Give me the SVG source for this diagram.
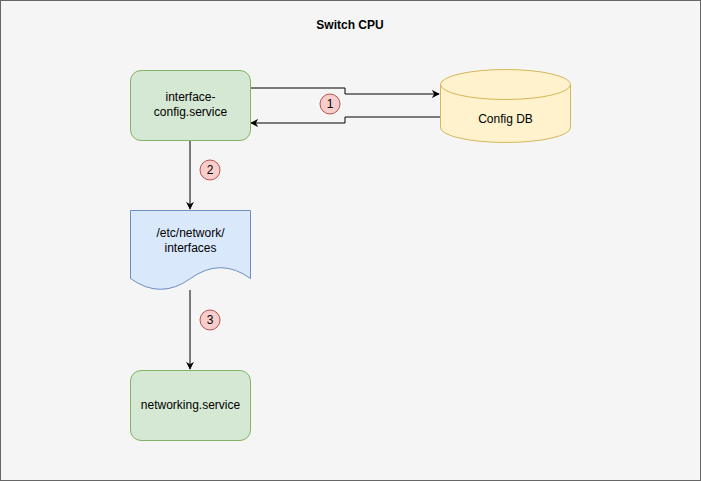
<svg xmlns="http://www.w3.org/2000/svg" width="701" height="481" viewBox="0 0 701 481">
<defs>
<style>
text{font-family:"Liberation Sans",Arial,sans-serif;font-size:12px;fill:#000;text-anchor:middle}
.green{fill:#d5e8d4;stroke:#82b366;stroke-width:1}
.edge{fill:none;stroke:#000;stroke-width:1}
.badge circle{fill:#f8cecc;stroke:#b85450;stroke-width:1}
</style>
<marker id="arr" viewBox="0 0 10 10" refX="9" refY="5" markerWidth="8" markerHeight="8" markerUnits="userSpaceOnUse" orient="auto">
<path d="M0,0 L10,5 L0,10 L3,5 Z" fill="#000"/>
</marker>
</defs>
<g id="frame">
<rect x="0.5" y="0.5" width="700" height="480" fill="#f5f5f5" stroke="#666666"/>
<text x="350" y="29" style="font-weight:bold">Switch CPU</text>
</g>
<g id="connectors">
<path class="edge" d="M250,88 H345 V94 H439" marker-end="url(#arr)"/>
<path class="edge" d="M440,117 H345 V123 H251" marker-end="url(#arr)"/>
<path class="edge" d="M190,140 V209" marker-end="url(#arr)"/>
<path class="edge" d="M190,290 V369" marker-end="url(#arr)"/>
</g>
<g id="interface-config">
<rect class="green" x="130.5" y="70.5" width="120" height="70" rx="10.5"/>
<text x="190.5" y="101">interface-</text>
<text x="190.5" y="116">config.service</text>
</g>
<g id="config-db">
<path d="M440.5,84.5 A65,15 0 0 1 570.5,84.5 V127.5 A65,15 0 0 1 440.5,127.5 Z" fill="#fff2cc" stroke="#d6b656"/>
<path d="M440.5,84.5 A65,15 0 0 0 570.5,84.5" fill="none" stroke="#d6b656"/>
<text x="505.5" y="123">Config DB</text>
</g>
<g id="interfaces-file">
<path d="M130.5,210.5 H250.5 V278.5 Q220.5,256.9 190.5,278.5 Q160.5,300.1 130.5,278.5 Z" fill="#dae8fc" stroke="#6c8ebf"/>
<text x="190.5" y="237">/etc/network/</text>
<text x="190.5" y="252">interfaces</text>
</g>
<g id="networking">
<rect class="green" x="130.5" y="370.5" width="120" height="70" rx="10.5"/>
<text x="190.5" y="409">networking.service</text>
</g>
<g id="badge1" class="badge">
<circle cx="330" cy="104" r="10"/>
<text x="330" y="108">1</text>
</g>
<g id="badge2" class="badge">
<circle cx="210" cy="170" r="10"/>
<text x="210" y="174">2</text>
</g>
<g id="badge3" class="badge">
<circle cx="210" cy="320" r="10"/>
<text x="210" y="324">3</text>
</g>
</svg>
